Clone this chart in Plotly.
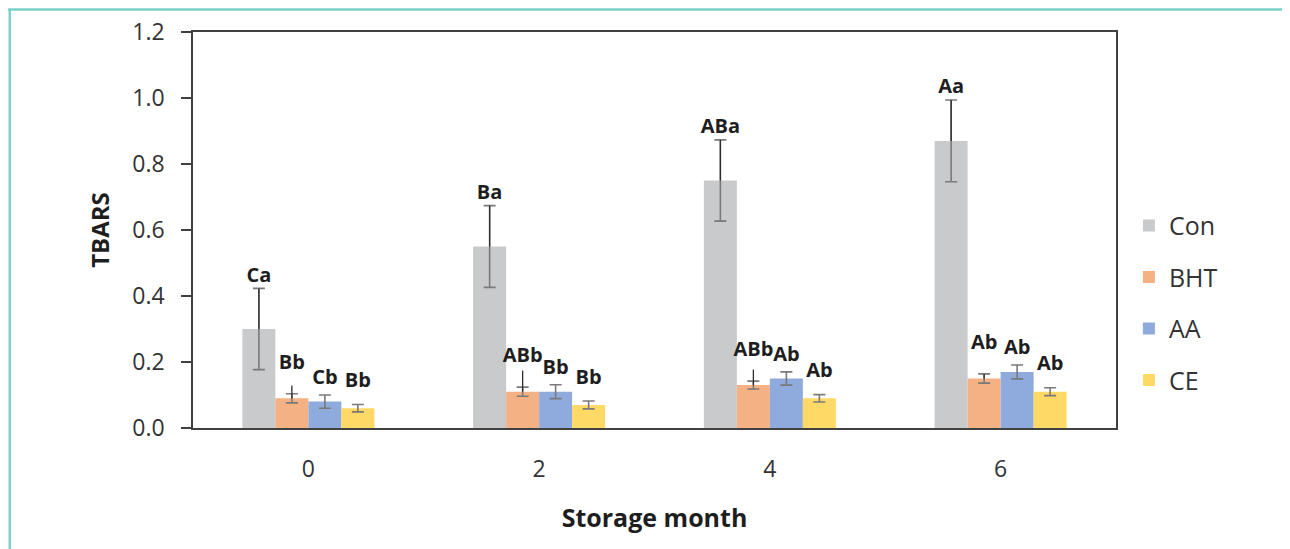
import plotly.graph_objects as go

months = ["0", "2", "4", "6"]
series = ["Con", "BHT", "AA", "CE"]
con = [0.30, 0.55, 0.75, 0.87]
con_err = [0.123, 0.124, 0.123, 0.124]
bht = [0.09, 0.11, 0.13, 0.15]
bht_err = [0.014, 0.014, 0.012, 0.014]
aa = [0.08, 0.11, 0.15, 0.17]
aa_err = [0.02, 0.021, 0.02, 0.021]
ce = [0.06, 0.07, 0.09, 0.11]
ce_err = [0.011, 0.012, 0.011, 0.012]
# extra dark upper line above the cap (seen on BHT bars)
bht_extra = [0.025, 0.05, 0.035, 0.0]
con_labels = ["Ca", "Ba", "ABa", "Aa"]
bht_labels = ["Bb", "ABb", "ABb", "Ab"]
aa_labels = ["Cb", "Bb", "Ab", "Ab"]
ce_labels = ["Bb", "Bb", "Ab", "Ab"]

colors = {"Con": "#c9cacc", "BHT": "#f4b183", "AA": "#8faadc", "CE": "#ffd966"}
values = {"Con": con, "BHT": bht, "AA": aa, "CE": ce}
errors = {"Con": con_err, "BHT": bht_err, "AA": aa_err, "CE": ce_err}
labels = {"Con": con_labels, "BHT": bht_labels, "AA": aa_labels, "CE": ce_labels}
extra_up = {"Con": [0, 0, 0, 0], "BHT": bht_extra, "AA": [0, 0, 0, 0], "CE": [0, 0, 0, 0]}
dark_down = {"Con": con_err, "BHT": bht_err, "AA": [0, 0, 0, 0], "CE": [0, 0, 0, 0]}
text_marker = {"Con": 1, "BHT": 30, "AA": 8, "CE": 18}

FONT = "Open Sans"
fig = go.Figure()
for s in series:
    fig.add_trace(go.Bar(
        x=months, y=values[s], name=s, offsetgroup=s, legendgroup=s,
        marker=dict(color=colors[s], line=dict(width=0)),
        error_y=dict(type="data", array=errors[s], color="#7a7a7a", thickness=1.6, width=6),
    ))
for s in series:
    tops = [v + e for v, e in zip(values[s], errors[s])]
    fig.add_trace(go.Scatter(
        x=months, y=tops, mode="markers+text", offsetgroup=s, showlegend=False,
        text=labels[s], textposition="top center",
        textfont=dict(family=FONT, size=20, color="#1e1e1e", weight="bold"),
        marker=dict(size=text_marker[s], opacity=0),
        error_y=dict(type="data", symmetric=False, array=extra_up[s], arrayminus=dark_down[s],
                     color="#2a2a2a", thickness=1.3, width=0),
        hoverinfo="skip",
    ))

fig.update_layout(
    width=1290, height=549,
    margin=dict(l=185, r=182, t=24, b=129),
    paper_bgcolor="white", plot_bgcolor="white",
    barmode="group", bargap=0.428, bargroupgap=0,
    scattermode="group", scattergap=0.428,
    font=dict(family=FONT, color="#333333"),
    legend=dict(x=1.014, y=0.316, xanchor="left", yanchor="middle",
                font=dict(family=FONT, size=25, color="#333333"),
                tracegroupgap=16, itemwidth=30),
    showlegend=True,
    shapes=[
        dict(type="line", xref="paper", yref="paper", x0=-0.25, x1=1.25, y0=1.057, y1=1.057,
             line=dict(color="#79d2c8", width=2.5)),
        dict(type="line", xref="paper", yref="paper", x0=-0.1985, x1=-0.1985, y0=-0.5, y1=1.057,
             line=dict(color="#79d2c8", width=2.5)),
    ],
)
fig.update_xaxes(
    type="category", showline=True, linecolor="#404040", linewidth=1.6, mirror=True,
    ticks="", tickfont=dict(family=FONT, size=23, color="#333333"), ticklabelstandoff=20,
    title=dict(text="<b>Storage month</b>", font=dict(family=FONT, size=25, color="#1e1e1e"), standoff=26),
    showgrid=False, automargin=False,
)
fig.update_yaxes(
    range=[0, 1.2], dtick=0.2, tickformat=".1f", showline=True, linecolor="#404040", linewidth=1.6,
    mirror=True, ticks="outside", ticklen=10, tickcolor="#404040", tickwidth=1.6,
    tickfont=dict(family=FONT, size=23, color="#333333"), ticklabelstandoff=12,
    title=dict(text="<b>TBARS</b>", font=dict(family=FONT, size=24, color="#1e1e1e"), standoff=16),
    showgrid=False, zeroline=False, automargin=False,
)
fig.write_html("out.html")
